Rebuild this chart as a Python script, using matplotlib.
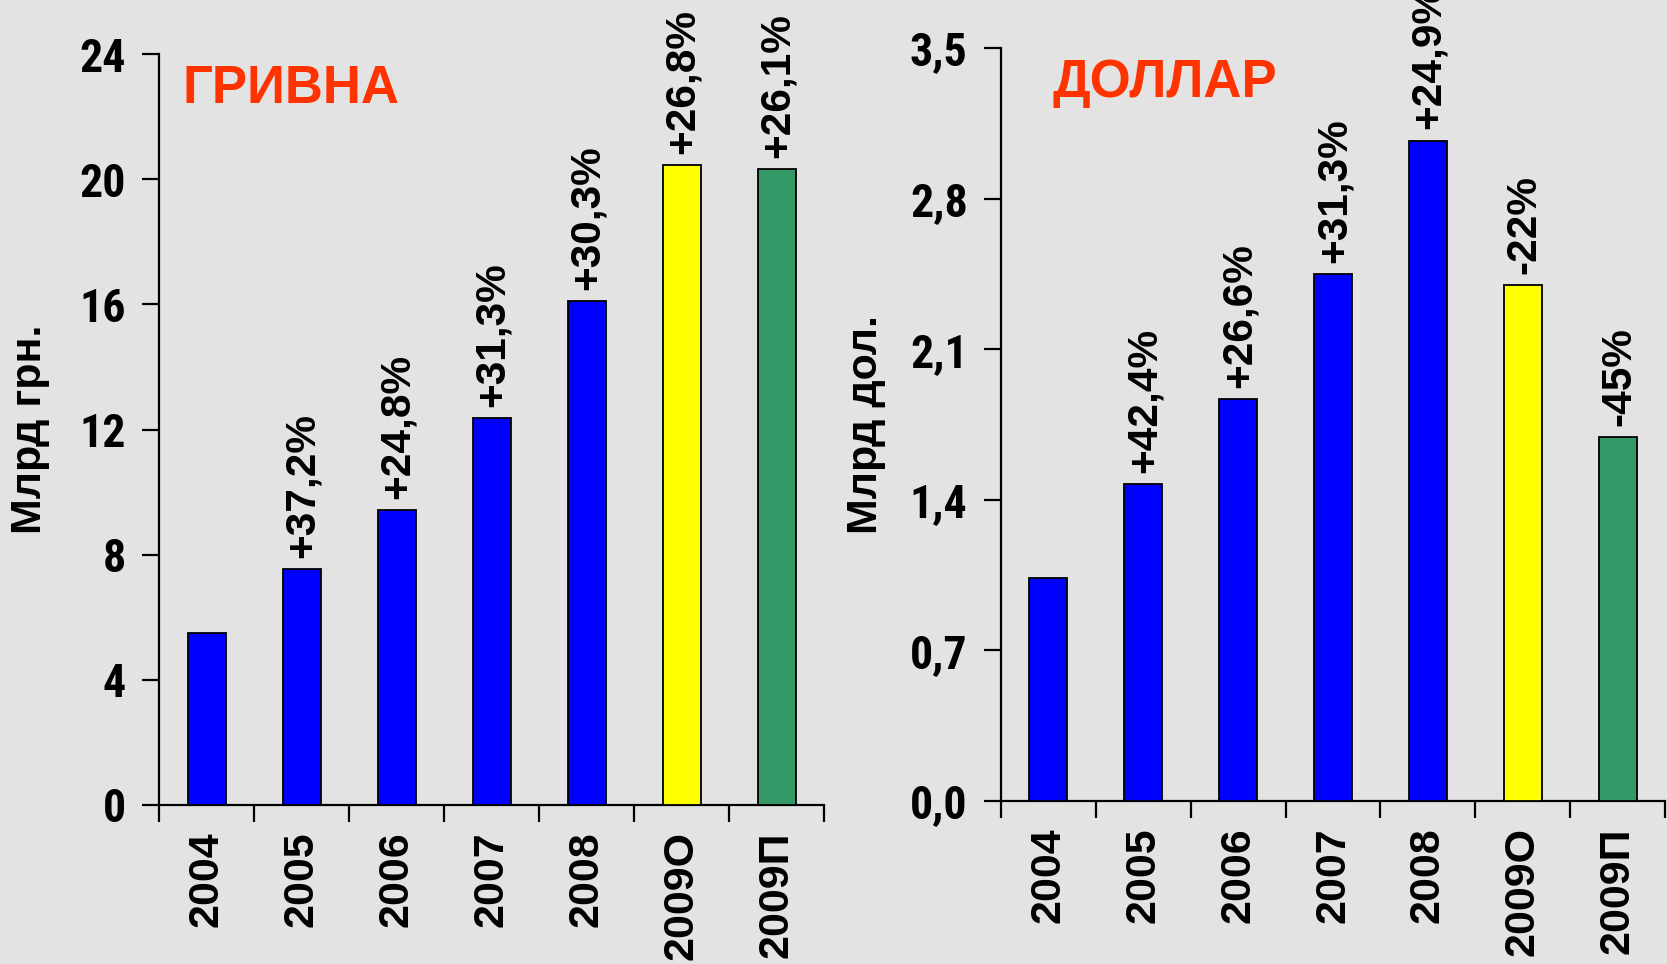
import numpy as np
import matplotlib.pyplot as plt

# data
years = ['2004', '2005', '2006', '2007', '2008', '2009О', '2009П']
uah = [5.5, 7.55, 9.42, 12.37, 16.1, 20.45, 20.32]
usd = [1.035, 1.473, 1.87, 2.45, 3.07, 2.40, 1.69]
uah_growth = ['', '+37,2%', '+24,8%', '+31,3%', '+30,3%', '+26,8%', '+26,1%']
usd_growth = ['', '+42,4%', '+26,6%', '+31,3%', '+24,9%', '-22%', '-45%']
uah_ticks = [0, 4, 8, 12, 16, 20, 24]
usd_ticks = [0.0, 0.7, 1.4, 2.1, 2.8, 3.5]
bar_colors = ['#0000ff'] * 5 + ['#ffff00', '#339966']

bg = '#e3e3e3'
narrow = ['Roboto Condensed', 'Liberation Sans', 'DejaVu Sans']
plt.rcParams['font.family'] = ['Liberation Sans', 'DejaVu Sans']
plt.rcParams['font.weight'] = 'bold'

fig = plt.figure(figsize=(16.67, 9.64), dpi=100, facecolor=bg)
ax1 = fig.add_axes([159 / 1667, 159 / 964, 665 / 1667, 751 / 964])
ax2 = fig.add_axes([1001 / 1667, 163 / 964, 664 / 1667, 753 / 964])


def draw(ax, values, growth, ticks, ylabel, title, tick_fmt, title_x, label_x):
    x = np.arange(len(years))
    ax.bar(x, values, width=0.4, color=bar_colors, edgecolor='black', linewidth=1.3, zorder=3)
    for i, (v, g) in enumerate(zip(values, growth)):
        if g:
            ax.annotate(g, (i, v), xytext=(1, 8), textcoords='offset points',
                        rotation=90, ha='center', va='bottom', fontsize=30.5,
                        fontweight='bold', annotation_clip=False)
    ax.set_xlim(-0.5, len(years) - 0.5)
    ax.set_ylim(ticks[0], ticks[-1])
    ax.patch.set_visible(False)
    for s in ['top', 'right']:
        ax.spines[s].set_visible(False)
    for s in ['left', 'bottom']:
        ax.spines[s].set_linewidth(1.6)
    # boundary ticks below the axis, labels at bar centres
    ax.set_xticks(np.arange(-0.5, len(years), 1))
    ax.set_xticklabels([])
    ax.tick_params(axis='x', which='major', length=12, width=1.6, direction='out')
    ax.set_xticks(x, years, minor=True)
    ax.tick_params(axis='x', which='minor', length=0, pad=19, labelsize=31, labelrotation=90)
    ax.set_yticks(ticks, [tick_fmt(t) for t in ticks])
    ax.tick_params(axis='y', length=12, width=1.6, pad=12)
    for lab in ax.get_yticklabels():
        lab.set_family(narrow)
        lab.set_fontsize(33)
        lab.set_fontweight('bold')
    ax.set_ylabel(ylabel, fontsize=31, fontweight='bold')
    ax.yaxis.set_label_coords(label_x, 0.5)
    ax.text(title_x, 0.935, title, transform=ax.transAxes,
            color='#ff3300', fontsize=38, fontweight='bold', va='baseline')


draw(ax1, uah, uah_growth, uah_ticks, 'Млрд грн.', 'ГРИВНА', lambda t: f'{t:d}', 0.036, -0.164)
draw(ax2, usd, usd_growth, usd_ticks, 'Млрд дол.', 'ДОЛЛАР',
     lambda t: f'{t:.1f}'.replace('.', ','), 0.077, -0.173)

fig.savefig('out.png', dpi=100, facecolor=bg)
